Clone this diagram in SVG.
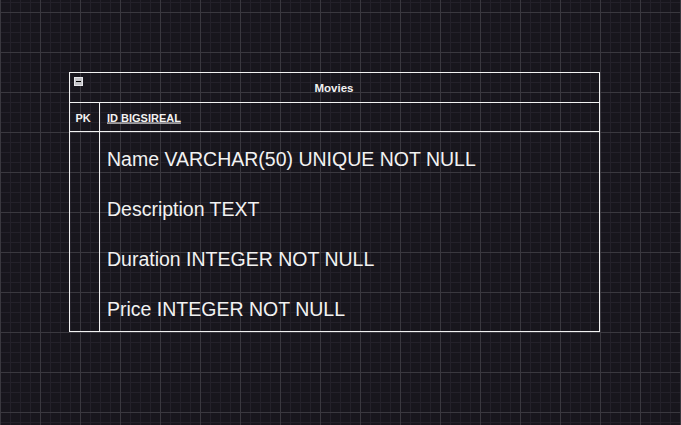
<svg xmlns="http://www.w3.org/2000/svg" width="681" height="425" viewBox="0 0 681 425">
  <defs>
    <pattern id="minor" x="0" y="2" width="10" height="10" patternUnits="userSpaceOnUse">
      <path d="M0.5 0V10M0 0.5H10" stroke="#24212a" stroke-width="1" fill="none"/>
    </pattern>
    <pattern id="major" x="0" y="12" width="40" height="40" patternUnits="userSpaceOnUse">
      <path d="M0.5 0V40M0 0.5H40" stroke="#3a383f" stroke-width="1" fill="none"/>
    </pattern>
  </defs>
  <style>
    .ln { stroke: #f2f2f2; stroke-width: 1; fill: none; }
    .hdr { font-family: "Liberation Sans", Arial, sans-serif; font-size: 11px; font-weight: bold; fill: #f2f2f2; }
    .fld { font-family: "Liberation Sans", Arial, sans-serif; font-size: 19.5px; fill: #f2f2f2; }
  </style>
  <rect width="681" height="425" fill="#18161d"/>
  <rect width="681" height="425" fill="url(#minor)"/>
  <rect width="681" height="425" fill="url(#major)"/>

  <g id="movies">
    <rect class="ln" x="69.5" y="72.5" width="530" height="259"/>
    <line class="ln" x1="69.5" y1="102.5" x2="599.5" y2="102.5"/>
    <line class="ln" x1="69.5" y1="131.5" x2="599.5" y2="131.5"/>
    <line class="ln" x1="99.5" y1="102.5" x2="99.5" y2="331.5"/>
    <rect x="74.5" y="77.5" width="8" height="8" fill="#c4c4c8" stroke="#e6e6ea" stroke-width="1"/>
    <line x1="76" y1="81.5" x2="81" y2="81.5" stroke="#000" stroke-width="1"/>
    <text class="hdr" x="334" y="91.5" text-anchor="middle" style="font-size:11.5px">Movies</text>
    <text class="hdr" x="75.5" y="121.5">PK</text>
    <text class="hdr" x="107" y="121.5" text-decoration="underline">ID BIGSIREAL</text>
    <text class="fld" x="107" y="165.5">Name VARCHAR(50) UNIQUE NOT NULL</text>
    <text class="fld" x="107" y="215.5">Description TEXT</text>
    <text class="fld" x="107" y="265.5">Duration INTEGER NOT NULL</text>
    <text class="fld" x="107" y="315.5">Price INTEGER NOT NULL</text>
  </g>
  <g id="connectors"/>
</svg>
